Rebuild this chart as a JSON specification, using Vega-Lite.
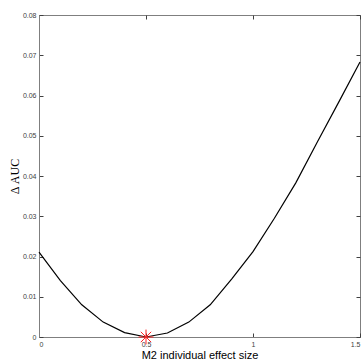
{
  "$schema": "https://vega.github.io/schema/vega-lite/v6.json",
  "autosize": "none",
  "width": 321,
  "height": 322,
  "padding": {"left": 39, "top": 15, "right": 2, "bottom": 27},
  "background": "white",
  "config": {
    "view": {"stroke": "#7f7f7f", "strokeWidth": 1},
    "axis": {
      "grid": false,
      "domainColor": "#7f7f7f",
      "tickColor": "#404040",
      "tickSize": -4,
      "labelFont": "Liberation Sans",
      "labelFontSize": 7,
      "labelColor": "#404040",
      "titleFont": "Liberation Sans",
      "titleFontWeight": "normal",
      "titleColor": "black"
    }
  },
  "datasets": {
    "curve": [
      {"x": 0.0, "y": 0.0211},
      {"x": 0.1, "y": 0.0140},
      {"x": 0.2, "y": 0.0080},
      {"x": 0.3, "y": 0.0037},
      {"x": 0.4, "y": 0.0011},
      {"x": 0.5, "y": 0.0},
      {"x": 0.6, "y": 0.0010},
      {"x": 0.7, "y": 0.0037},
      {"x": 0.8, "y": 0.0080},
      {"x": 0.9, "y": 0.0144},
      {"x": 1.0, "y": 0.0212},
      {"x": 1.1, "y": 0.0295},
      {"x": 1.2, "y": 0.0383},
      {"x": 1.3, "y": 0.0484},
      {"x": 1.4, "y": 0.0583},
      {"x": 1.5, "y": 0.0683}
    ],
    "opt": [{"x": 0.5, "y": 0.0}]
  },
  "layer": [
    {
      "data": {"name": "curve"},
      "mark": {"type": "line", "color": "black", "strokeWidth": 1.2},
      "encoding": {
        "x": {"field": "x", "type": "quantitative",
          "scale": {"domain": [0, 1.5], "nice": false, "zero": false},
          "axis": {"values": [0, 0.5, 1, 1.5], "format": ".2~f", "title": "M2 individual effect size", "titleFontSize": 11, "titlePadding": 2, "labelPadding": 7}},
        "y": {"field": "y", "type": "quantitative",
          "scale": {"domain": [0, 0.08], "nice": false},
          "axis": {"values": [0, 0.01, 0.02, 0.03, 0.04, 0.05, 0.06, 0.07, 0.08], "format": ".2~f", "title": "Δ AUC", "titleFont": "Liberation Serif", "titleFontSize": 12, "titlePadding": 1, "labelPadding": 7}}
      }
    },
    {
      "data": {"name": "opt"},
      "mark": {"type": "point", "shape": "M-1,0L1,0M0,-1L0,1M-0.7,-0.7L0.7,0.7M-0.7,0.7L0.7,-0.7", "filled": false, "stroke": "#ff2020", "strokeWidth": 1, "size": 220, "opacity": 1, "clip": false},
      "encoding": {
        "x": {"field": "x", "type": "quantitative", "scale": {"domain": [0, 1.5], "nice": false, "zero": false},
          "axis": {"orient": "top", "values": [0, 0.5, 1, 1.5], "labels": false, "title": null, "domain": false}},
        "y": {"field": "y", "type": "quantitative", "scale": {"domain": [0, 0.08], "nice": false},
          "axis": {"orient": "right", "values": [0, 0.01, 0.02, 0.03, 0.04, 0.05, 0.06, 0.07, 0.08], "labels": false, "title": null, "domain": false}}
      }
    }
  ],
  "resolve": {"axis": {"x": "independent", "y": "independent"}}
}
